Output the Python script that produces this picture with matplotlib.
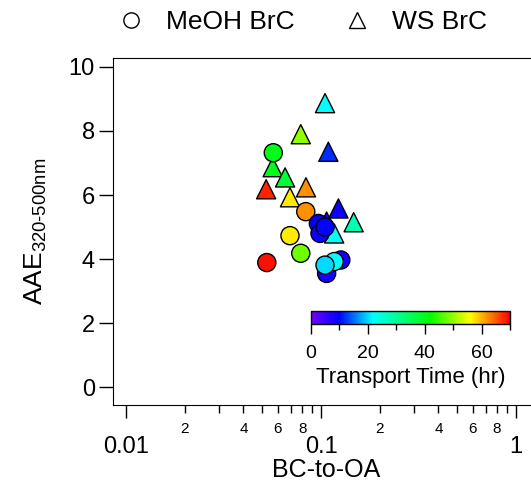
import matplotlib.pyplot as plt
import matplotlib.colors as mcolors
import matplotlib.ticker as mticker
from matplotlib.lines import Line2D
import numpy as np

plt.rcParams['font.family'] = ['Liberation Sans', 'DejaVu Sans']
plt.rcParams['mathtext.fontset'] = 'custom'
plt.rcParams['mathtext.rm'] = 'Liberation Sans'

# MeOH BrC (circles)
meoh_bc_oa = [0.0569, 0.0835, 0.0693, 0.0787, 0.0527, 0.0969, 0.0988, 0.1048,
              0.1068, 0.1263, 0.1168, 0.1048]
meoh_aae = [7.32, 5.48, 4.73, 4.18, 3.89, 5.11, 4.80, 5.00,
            3.55, 3.97, 3.92, 3.81]
meoh_time = [40, 62, 57, 48, 69, 10, 9, 10, 8, 8, 22, 20]

# WS BrC (triangles)
ws_bc_oa = [0.1048, 0.0787, 0.109, 0.0565, 0.0654, 0.0523, 0.0837, 0.0693,
            0.1228, 0.147, 0.1068, 0.1168]
ws_aae = [8.87, 7.90, 7.35, 6.87, 6.55, 6.18, 6.24, 5.93,
          5.58, 5.15, 5.17, 4.80]
ws_time = [22, 50, 12, 40, 38, 68, 62, 57, 9, 28, 9, 22]

x_minor = [0.02, 0.03, 0.04, 0.05, 0.06, 0.07, 0.08, 0.09,
           0.2, 0.3, 0.4, 0.5, 0.6, 0.7, 0.8, 0.9]
x_major = [0.01, 0.1, 1]

# colour scale like the Igor rainbow
cmap = mcolors.LinearSegmentedColormap.from_list('rb', [
    (0.00, (0.45, 0.0, 1.0)),
    (0.14, (0.0, 0.0, 1.0)),
    (0.31, (0.0, 1.0, 1.0)),
    (0.60, (0.0, 1.0, 0.0)),
    (0.80, (1.0, 1.0, 0.0)),
    (1.00, (1.0, 0.0, 0.0)),
])
norm = mcolors.Normalize(vmin=0, vmax=70)

fig = plt.figure(figsize=(5.31, 4.92), dpi=100)
ax = fig.add_axes([113 / 531, 1 - 405 / 492, 427 / 531, 347 / 492])

ax.scatter(ws_bc_oa, ws_aae, c=ws_time, cmap=cmap, norm=norm, marker='^',
           s=190, edgecolors='black', linewidths=1.0, zorder=3)
ax.scatter(meoh_bc_oa, meoh_aae, c=meoh_time, cmap=cmap, norm=norm, marker='o',
           s=170, edgecolors='black', linewidths=1.0, zorder=4)

ax.set_xscale('log')
ax.set_xlim(10 ** -2.067, 10 ** 0.123)
ax.set_ylim(-0.56, 10.28)
ax.spines['right'].set_visible(False)

ax.set_yticks([0, 2, 4, 6, 8, 10])
ax.tick_params(axis='y', which='major', direction='out', length=10, width=1,
               labelsize=17, pad=3)
ax.xaxis.set_major_locator(mticker.FixedLocator(x_major))
ax.xaxis.set_minor_locator(mticker.FixedLocator(x_minor))
ax.xaxis.set_major_formatter(mticker.FuncFormatter(lambda v, p: f'{v:g}'))


def minor_fmt(v, p):
    d = int(round(v / 10 ** np.floor(np.log10(v) + 1e-9)))
    return str(d) if d in (2, 4, 6, 8) else ''


ax.xaxis.set_minor_formatter(mticker.FuncFormatter(minor_fmt))
ax.tick_params(axis='x', which='major', direction='out', length=9, width=1,
               labelsize=17, pad=13)
ax.tick_params(axis='x', which='minor', direction='out', length=6, width=1,
               labelsize=11, pad=6)

ax.set_xlabel('BC-to-OA', fontsize=18, labelpad=0)
ax.set_ylabel(r'AAE$_{\mathregular{320\text{-}500nm}}$', fontsize=19, labelpad=14)

# colour bar inset
cax = fig.add_axes([311 / 531, 1 - 324 / 492, 199 / 531, 13 / 492])
sm = plt.cm.ScalarMappable(cmap=cmap, norm=norm)
cb = fig.colorbar(sm, cax=cax, orientation='horizontal')
cb.set_ticks([0, 20, 40, 60])
cb.ax.xaxis.set_minor_locator(mticker.FixedLocator([10, 30, 50, 70]))
cb.ax.tick_params(which='major', direction='out', length=7, width=1,
                  labelsize=14, pad=8)
cb.ax.tick_params(which='minor', direction='out', length=4, width=1)
cb.outline.set_linewidth(1)
cb.set_label('Transport Time (hr)', fontsize=16, labelpad=4)

# legend above the plot
handles = [Line2D([], [], marker='o', linestyle='none', markersize=11,
                  markerfacecolor='none', markeredgecolor='black'),
           Line2D([], [], marker='^', linestyle='none', markersize=12,
                  markerfacecolor='none', markeredgecolor='black')]
fig.legend(handles, ['MeOH BrC', 'WS BrC'], loc='center',
           bbox_to_anchor=(0.557, 0.955), ncol=2, frameon=False, fontsize=19,
           handletextpad=0.35, columnspacing=1.35)

plt.savefig('out.png', dpi=100)
